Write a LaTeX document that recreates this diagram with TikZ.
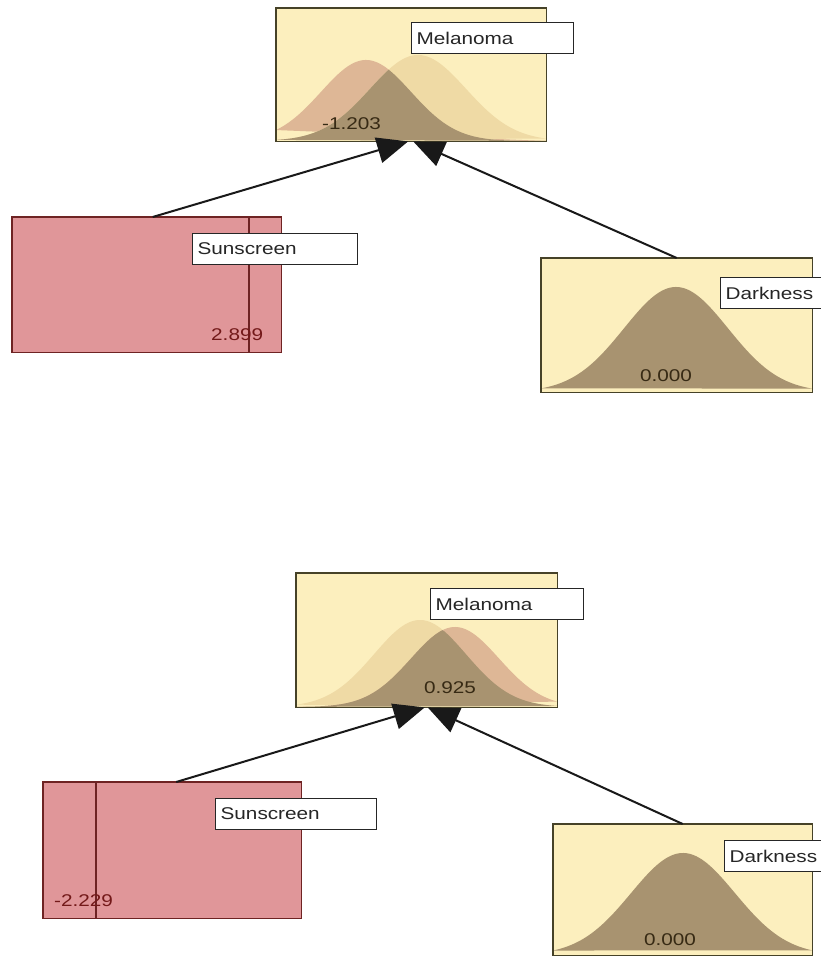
\documentclass[tikz,border=0pt]{standalone}
\usepackage{fontspec}
\usetikzlibrary{arrows.meta}
\newfontfamily\lblfont[FakeStretch=1.22]{Liberation Sans}

\definecolor{boxyellow}{RGB}{252,239,190}
\definecolor{curvelight}{RGB}{239,218,165}
\definecolor{curvepink}{RGB}{222,183,150}
\definecolor{curvedark}{RGB}{168,147,112}
\definecolor{boxedge}{RGB}{70,66,40}
\definecolor{sunfill}{RGB}{224,150,153}
\definecolor{sunedge}{RGB}{110,35,35}
\definecolor{valdark}{RGB}{55,42,20}
\definecolor{valred}{RGB}{115,25,25}

\tikzset{
  contbox/.style={anchor=north west, inner sep=0pt, fill=boxyellow},
  sunbox/.style={anchor=north west, inner sep=0pt, fill=sunfill},
  edgeline/.style={draw=boxedge, line width=1.6pt},
  sunline/.style={draw=sunedge, line width=1.6pt},
  marker/.style={draw=sunedge, line width=1.5pt},
  lbl/.style={anchor=north west, draw=black!85, fill=white, line width=1.2pt,
    inner xsep=5pt, inner ysep=0pt, minimum height=31pt, align=left,
    font=\lblfont\fontsize{17}{19}\selectfont, text=black!85},
  val/.style={inner sep=0pt, font=\lblfont\fontsize{17}{19}\selectfont},
  conn/.style={draw=black!90, line width=2pt,
    -{Triangle[length=31pt,width=26pt]}},
}

\begin{document}
\begin{tikzpicture}[x=1pt,y=-1pt]
\useasboundingbox (0,0) rectangle (820,957);
\fill[white] (0,0) rectangle (820,957);

% ---------- upper network ----------
\node[contbox, minimum width=270pt, minimum height=133pt] (mel1) at (276,8) {};
\begin{scope}
  \clip (276,8) rectangle (546,141);
  \fill[curvepink] plot[domain=276:546, samples=140]
    (\x, {141 - 81*exp(-((\x-366)/45)^2/2)}) -- cycle;
  \fill[curvelight] plot[domain=276:546, samples=140]
    (\x, {141 - 86*exp(-((\x-418)/48)^2/2)}) -- cycle;
  \fill[curvedark] plot[domain=276:546, samples=140]
    (\x, {141 - min(81*exp(-((\x-366)/45)^2/2), 86*exp(-((\x-418)/48)^2/2))}) -- cycle;
\end{scope}
\draw[edgeline] (mel1.south west) rectangle (mel1.north east);
\node[val, text=valdark, anchor=west] (mel1v) at (322,124) {-1.203};
\node[lbl, text width=152pt] (mel1l) at (411,22) {Melanoma};

\node[sunbox, minimum width=269pt, minimum height=135pt] (sun1) at (12,217) {};
\draw[marker] (249,217) -- (249,352);
\node[val, text=valred, anchor=west] (sun1v) at (211,335) {2.899};
\draw[sunline] (sun1.south west) rectangle (sun1.north east);
\node[lbl, text width=155pt] (sun1l) at (192,233) {Sunscreen};

\node[contbox, minimum width=271pt, minimum height=134pt] (dark1) at (541,258) {};
\begin{scope}
  \clip (541,258) rectangle (812,392);
  \fill[curvedark] plot[domain=541:812, samples=140]
    (\x, {392 - 105*exp(-((\x-676)/52)^2/2)}) -- cycle;
\end{scope}
\draw[edgeline] (dark1.south west) rectangle (dark1.north east);
\node[val, text=valdark] (dark1v) at (666,376) {0.000};
\node[lbl, text width=110pt] (dark1l) at (720,277) {Darkness};

\draw[conn] ([xshift=6pt]sun1.north) -- ([xshift=-3pt]mel1.south);
\draw[conn] (dark1.north) -- ([xshift=2pt]mel1.south);

% ---------- lower network ----------
\node[contbox, minimum width=261pt, minimum height=134pt] (mel2) at (296,573) {};
\begin{scope}
  \clip (296,573) rectangle (557,707);
  \fill[curvelight] plot[domain=296:557, samples=140]
    (\x, {707 - 87*exp(-((\x-420)/46)^2/2)}) -- cycle;
  \fill[curvepink] plot[domain=296:557, samples=140]
    (\x, {707 - 80*exp(-((\x-455)/44)^2/2)}) -- cycle;
  \fill[curvedark] plot[domain=296:557, samples=140]
    (\x, {707 - min(87*exp(-((\x-420)/46)^2/2), 80*exp(-((\x-455)/44)^2/2))}) -- cycle;
\end{scope}
\draw[edgeline] (mel2.south west) rectangle (mel2.north east);
\node[val, text=valdark] (mel2v) at (450,688) {0.925};
\node[lbl, text width=143pt] (mel2l) at (430,588) {Melanoma};

\node[sunbox, minimum width=258pt, minimum height=136pt] (sun2) at (43,782) {};
\draw[marker] (96,782) -- (96,918);
\node[val, text=valred, anchor=west] (sun2v) at (54,901) {-2.229};
\draw[sunline] (sun2.south west) rectangle (sun2.north east);
\node[lbl, text width=151pt] (sun2l) at (215,798) {Sunscreen};

\node[contbox, minimum width=259pt, minimum height=131pt] (dark2) at (553,824) {};
\begin{scope}
  \clip (553,824) rectangle (812,955);
  \fill[curvedark] plot[domain=553:812, samples=140]
    (\x, {955 - 102*exp(-((\x-683)/52)^2/2)}) -- cycle;
\end{scope}
\draw[edgeline] (dark2.south west) rectangle (dark2.north east);
\node[val, text=valdark] (dark2v) at (670,940) {0.000};
\node[lbl, text width=106pt] (dark2l) at (724,840) {Darkness};

\draw[conn] ([xshift=4pt]sun2.north) -- ([xshift=-2pt]mel2.south);
\draw[conn] (dark2.north) -- ([xshift=1pt]mel2.south);
\end{tikzpicture}
\end{document}
